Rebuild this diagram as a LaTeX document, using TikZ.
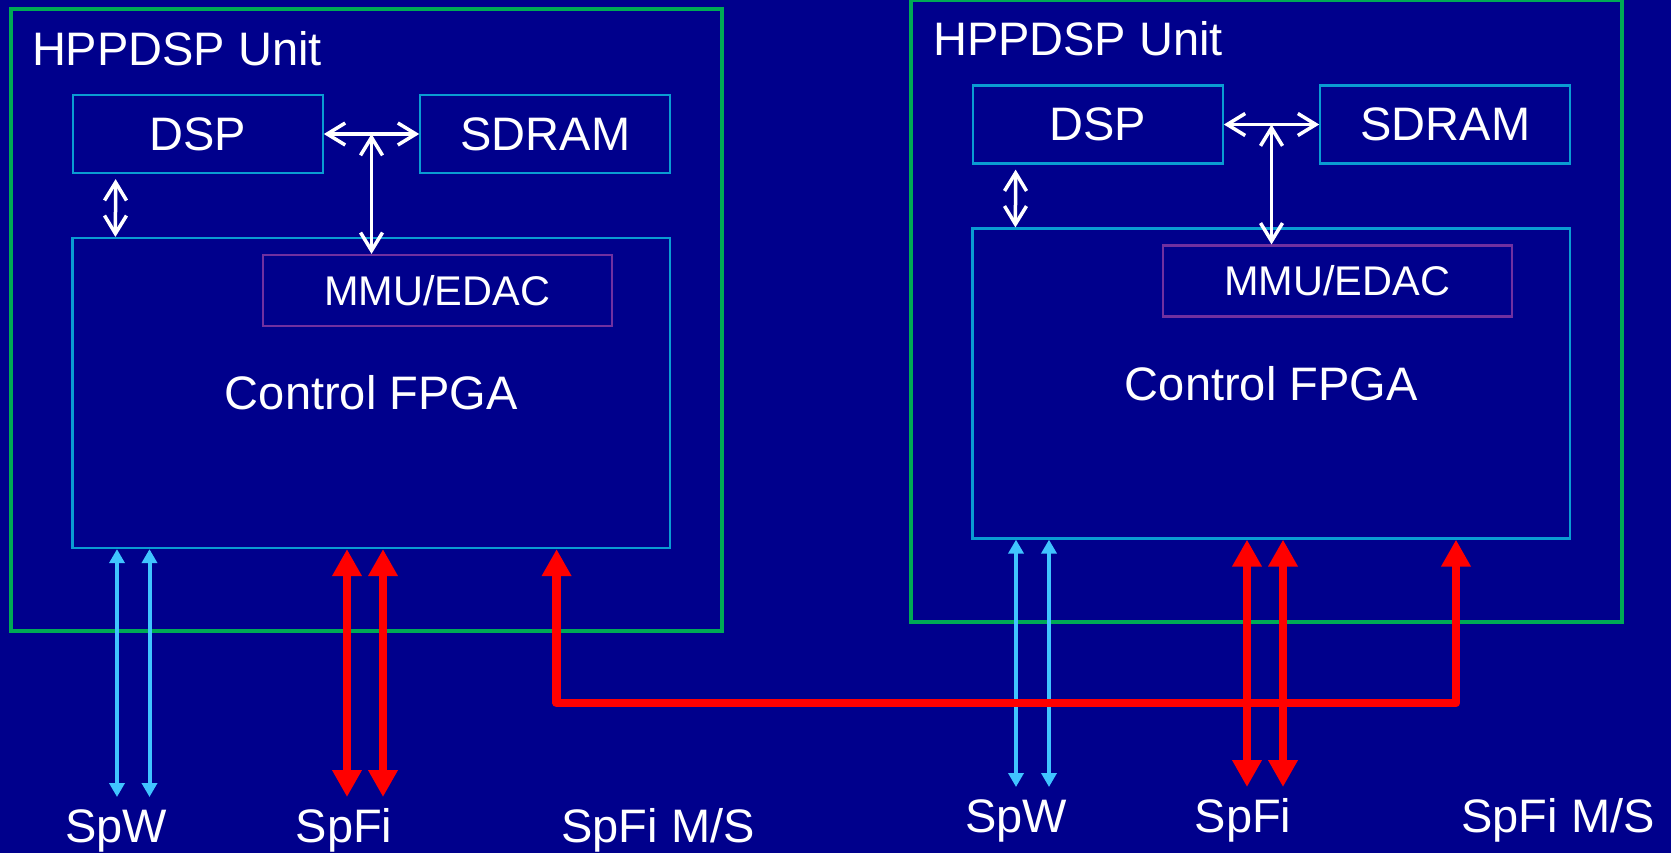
\documentclass[tikz,border=0pt]{standalone}
\usepackage{fontspec}
\setmainfont{Liberation Sans}
\usetikzlibrary{arrows.meta, calc}

\definecolor{slideblue}{HTML}{00008C}
\definecolor{unitgreen}{HTML}{00AA55}
\definecolor{boxcyan}{HTML}{0A9CD2}
\definecolor{mmupurple}{HTML}{7030A0}
\definecolor{spwblue}{HTML}{40C4FF}
\definecolor{spfired}{HTML}{FF0000}

\begin{document}
\begin{tikzpicture}[x=0.5pt, y=-0.5pt,
    txt/.style={text=white, font=\fontsize{23.5}{28}\selectfont},
    unit/.style={draw=unitgreen, line width=2pt, minimum width=355.5pt, minimum height=311pt, inner sep=0pt},
    box/.style={draw=boxcyan, line width=1.1pt, inner sep=0pt, txt},
    chip/.style={box, minimum width=125pt, minimum height=39pt},
    mmu/.style={draw=mmupurple, line width=1.1pt, minimum width=174.3pt, minimum height=35.5pt, inner sep=0pt,
                text=white, font=\fontsize{20.75}{24}\selectfont},
    bus/.style={{Straight Barb[length=9pt,width=11pt]}-{Straight Barb[length=9pt,width=11pt]}, white, line width=1.75pt},
    spw/.style={{Triangle[length=7pt,width=7.5pt]}-{Triangle[length=7pt,width=7.5pt]}, spwblue, line width=2pt},
    spfi/.style={{Triangle[length=13.5pt,width=14pt]}-{Triangle[length=13.5pt,width=14pt]}, spfired, line width=4.25pt, line join=round}
  ]
    \path[use as bounding box] (0,0) rectangle (1671,853);
    \fill[slideblue] (0,0) rectangle (1671,853);

    % Left unit
    \node[unit] (unitL) at (366.5,320) {};
    \node[txt, anchor=base west] (titleL) at (25,65) {HPPDSP Unit};
    \node[chip] (dspL) at (197.75,134) {DSP};
    \node[chip] (ramL) at (545.3,134) {SDRAM};
    \node[box, minimum width=298.75pt, minimum height=155pt] (fpgaL) at (371.25,393) {Control FPGA};
    \node[mmu] (mmuL) at (437.3,290.5) {MMU/EDAC};

    % Right unit
    \node[unit] (unitR) at (1266.5,310.5) {};
    \node[txt, anchor=base west] (titleR) at (926,55.5) {HPPDSP Unit};
    \node[chip] (dspR) at (1097.75,124.5) {DSP};
    \node[chip] (ramR) at (1445.3,124.5) {SDRAM};
    \node[box, minimum width=298.75pt, minimum height=155pt] (fpgaR) at (1271.25,383.5) {Control FPGA};
    \node[mmu] (mmuR) at (1337.3,281) {MMU/EDAC};

    % Link labels
    \node[txt, anchor=base] (spwL) at (116,842) {SpW};
    \node[txt, anchor=base] (spfiL) at (344,842) {SpFi};
    \node[txt, anchor=base] (msL) at (658,842) {SpFi M/S};
    \node[txt, anchor=base] (spwR) at (1016,832) {SpW};
    \node[txt, anchor=base] (spfiR) at (1243,832) {SpFi};
    \node[txt, anchor=base] (msR) at (1558,832) {SpFi M/S};

    % Link ends
    \coordinate (w1L) at (117,797);
    \coordinate (w2L) at (149.5,797);
    \coordinate (f1L) at (347,797);
    \coordinate (f2L) at (383,797);
    \coordinate (w1R) at (1016,787);
    \coordinate (w2R) at (1049,787);
    \coordinate (f1R) at (1247,787);
    \coordinate (f2R) at (1283,787);
    \coordinate (turnL) at (556.6,703);
    \coordinate (turnR) at (1456,703);

    % Memory bus
    \coordinate (busL) at ($(dspL.east)!0.5!(ramL.west)$);
    \coordinate (busR) at ($(dspR.east)!0.5!(ramR.west)$);
    \draw[bus] (dspL) -- (ramL);
    \draw[bus] (busL) -- (busL |- mmuL.north);
    \draw[bus, shorten <=2.5pt] ([xshift=22pt]dspL.south west) -- ([xshift=22pt]fpgaL.north west);
    \draw[bus] (dspR) -- (ramR);
    \draw[bus] (busR) -- (busR |- mmuR.north);
    \draw[bus, shorten <=2.5pt] ([xshift=22pt]dspR.south west) -- ([xshift=22pt]fpgaR.north west);

    % SpaceWire
    \draw[spw] (w1L |- fpgaL.south) -- (w1L);
    \draw[spw] (w2L |- fpgaL.south) -- (w2L);
    \draw[spw] (w1R |- fpgaR.south) -- (w1R);
    \draw[spw] (w2R |- fpgaR.south) -- (w2R);

    % SpaceFibre
    \draw[spfi] (f1L |- fpgaL.south) -- (f1L);
    \draw[spfi] (f2L |- fpgaL.south) -- (f2L);
    \draw[spfi] (f1R |- fpgaR.south) -- (f1R);
    \draw[spfi] (f2R |- fpgaR.south) -- (f2R);

    % Master/slave link
    \draw[spfi] (turnL |- fpgaL.south) -- (turnL) -- (turnR) -- (turnR |- fpgaR.south);
  \end{tikzpicture}
\end{document}
